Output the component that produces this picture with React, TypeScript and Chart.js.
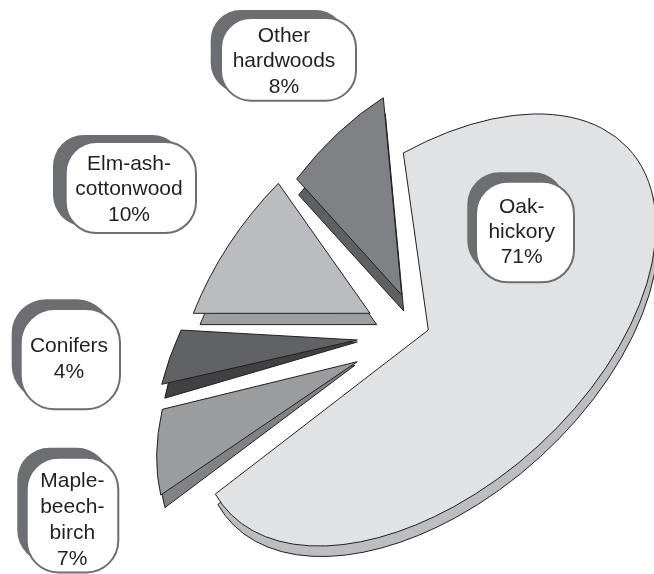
import { useEffect, useRef } from "react";
import { Chart, registerables } from "chart.js";
import type { Plugin } from "chart.js";

Chart.register(...registerables);

// Forest-type shares, clockwise from the top.
const labelLines = [
  ["Oak-", "hickory"],
  ["Maple-", "beech-", "birch"],
  ["Conifers"],
  ["Elm-ash-", "cottonwood"],
  ["Other", "hardwoods"],
];
const shares = [71, 7, 4, 10, 8];

const faceColors = ["#e1e2e4", "#9b9c9e", "#616264", "#bbbcbf", "#808184"];
const depthColors = ["#bcbdc0", "#808285", "#414143", "#9d9ea0", "#5f6062"];
const OUTLINE = "#231f20";
const CALLOUT_GREY = "#6d6e71";

// Tilted plane of each pulled-out wedge: [a, b, c, d, e, f] for ctx.transform,
// taking the unit circle of the pie onto the page.
const wedgePlanes = [
  [226.3, -123.9, 25, 177, 428.3, 330],
  [200.4, -86.5, -9.9, 199.2, 357.3, 361.7],
  [202, -83.4, -15.3, 200.6, 357.3, 340],
  [197, -94.2, -3.7, 200.1, 370, 313.3],
  [184.5, -118, 18.4, 197.3, 401.7, 295],
];

// Thickness of each wedge: shift of the underside and its turn about the tip.
const undersides = [
  { dx: 2.5, dy: 10.5, turn: 0 },
  { dx: -2.3, dy: 3.5, turn: -0.047 },
  { dx: 0, dy: 2, turn: -0.061 },
  { dx: 6.7, dy: 11.3, turn: 0 },
  { dx: 2, dy: 16, turn: 0 },
];

// Rounded callouts: white box, drop offset, radius, text centre and first baseline.
const callouts = [
  { l: 476, t: 181.7, r: 574, b: 282.3, sx: -8.7, sy: -9.4, rad: 32, cx: 521.7, y: 213.3, step: 25 },
  { l: 26.7, t: 457.7, r: 118.3, b: 572.5, sx: -9.4, sy: -10, rad: 32, cx: 72.3, y: 486.7, step: 26 },
  { l: 20.7, t: 309, r: 120, b: 409.3, sx: -9, sy: -9.7, rad: 34, cx: 69, y: 351.7, step: 26.6 },
  { l: 65.7, t: 142, r: 196, b: 233, sx: -12.7, sy: -7, rad: 31, cx: 129, y: 170, step: 25.4 },
  { l: 221, t: 18, r: 356, b: 100.7, sx: -10.3, sy: -8, rad: 30, cx: 284, y: 42, step: 25.3 },
];

function wedgePath(ctx: CanvasRenderingContext2D, plane: number[], start: number, end: number) {
  ctx.save();
  ctx.transform(plane[0], plane[1], plane[2], plane[3], plane[4], plane[5]);
  ctx.beginPath();
  ctx.moveTo(0, 0);
  ctx.arc(0, 0, 1, start, end);
  ctx.closePath();
  ctx.restore();
}

function paint(ctx: CanvasRenderingContext2D, fill: string) {
  ctx.fillStyle = fill;
  ctx.fill();
  ctx.strokeStyle = OUTLINE;
  ctx.lineWidth = 1;
  ctx.lineJoin = "miter";
  ctx.stroke();
}

const explodedWedges: Plugin<"pie"> = {
  id: "explodedWedges",
  beforeDatasetDraw(chart, args) {
    const ctx = chart.ctx;
    args.meta.data.forEach((element, i) => {
      const { startAngle, endAngle } = element.getProps(["startAngle", "endAngle"]) as unknown as {
        startAngle: number;
        endAngle: number;
      };
      const [a, b, c, d, e, f] = wedgePlanes[i];
      const u = undersides[i];
      const cos = Math.cos(u.turn);
      const sin = Math.sin(u.turn);
      const under = [
        cos * a - sin * b,
        sin * a + cos * b,
        cos * c - sin * d,
        sin * c + cos * d,
        e + u.dx,
        f + u.dy,
      ];
      wedgePath(ctx, under, startAngle, endAngle);
      paint(ctx, depthColors[i]);
      wedgePath(ctx, wedgePlanes[i], startAngle, endAngle);
      paint(ctx, faceColors[i]);
    });
    return false;
  },
  afterDatasetsDraw(chart) {
    const ctx = chart.ctx;
    ctx.save();
    callouts.forEach((box, i) => {
      const w = box.r - box.l;
      const h = box.b - box.t;
      ctx.beginPath();
      ctx.roundRect(box.l + box.sx, box.t + box.sy, w, h, box.rad);
      ctx.fillStyle = CALLOUT_GREY;
      ctx.fill();
      ctx.beginPath();
      ctx.roundRect(box.l, box.t, w, h, box.rad);
      ctx.fillStyle = "#ffffff";
      ctx.fill();
      ctx.strokeStyle = CALLOUT_GREY;
      ctx.lineWidth = 2;
      ctx.stroke();
      ctx.fillStyle = OUTLINE;
      ctx.font = '21px "Liberation Sans", Arial, sans-serif';
      ctx.textAlign = "center";
      ctx.textBaseline = "alphabetic";
      [...labelLines[i], `${shares[i]}%`].forEach((line, row) => {
        ctx.fillText(line, box.cx, box.y + row * box.step);
      });
    });
    ctx.restore();
  },
};

export default function App() {
  const canvasRef = useRef<HTMLCanvasElement>(null);

  useEffect(() => {
    if (!canvasRef.current) return;
    const chart = new Chart(canvasRef.current, {
      type: "pie",
      data: {
        labels: labelLines.map((lines) => lines.join("")),
        datasets: [{ data: shares, clip: false, backgroundColor: faceColors }],
      },
      options: {
        animation: false,
        responsive: false,
        devicePixelRatio: 1,
        rotation: 0,
        plugins: { legend: { display: false }, tooltip: { enabled: false } },
      },
      plugins: [explodedWedges],
    });
    return () => chart.destroy();
  }, []);

  return (
    <div style={{ position: "absolute", left: 0, top: 0, width: 654, height: 574, background: "#fff" }}>
      <canvas ref={canvasRef} width={654} height={574} style={{ display: "block" }} />
    </div>
  );
}
